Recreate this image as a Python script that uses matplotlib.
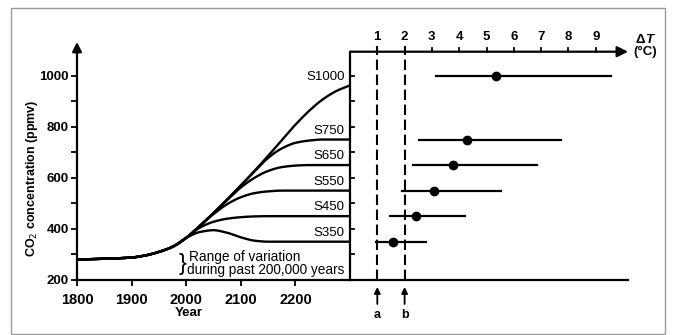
import numpy as np
import matplotlib
matplotlib.use('Agg')
import matplotlib.pyplot as plt

plt.rcParams['font.family'] = ['Liberation Sans', 'DejaVu Sans']

# CO2 pathways (ppmv)
years = [1800, 1850, 1900, 1925, 1950, 1975, 2000, 2025, 2050, 2075, 2100,
         2125, 2150, 2175, 2200, 2225, 2250, 2275, 2300]
hist = [280, 283, 288, 296, 310, 330, 365]
s350 = hist + [388, 395, 385, 367, 354, 350, 350, 350, 350, 350, 350, 350]
s450 = hist + [405, 428, 440, 446, 449, 450, 450, 450, 450, 450, 450, 450]
s550 = hist + [412, 458, 497, 524, 540, 547, 550, 550, 550, 550, 550, 550]
s650 = hist + [412, 462, 513, 562, 600, 627, 642, 648, 650, 650, 650, 650]
s750 = hist + [412, 462, 515, 570, 625, 678, 715, 737, 746, 750, 750, 750]
s1000 = hist + [412, 462, 515, 570, 627, 686, 748, 808, 862, 907, 940, 962]

names = ['S350', 'S450', 'S550', 'S650', 'S750', 'S1000']
levels = [350, 450, 550, 650, 750, 1000]
curves = [s350, s450, s550, s650, s750, s1000]

# equilibrium warming (deg C)
dt_best = [1.58, 2.43, 3.09, 3.77, 4.27, 5.35]
dt_low = [0.96, 1.48, 1.89, 2.30, 2.54, 3.15]
dt_high = [2.80, 4.21, 5.53, 6.85, 7.73, 9.56]


def smooth(x, y, n=400):
    # monotone cubic through the read points, only for drawing
    x = np.asarray(x, float)
    y = np.asarray(y, float)
    h = np.diff(x)
    d = np.diff(y) / h
    m = np.zeros_like(y)
    m[0], m[-1] = d[0], d[-1]
    for k in range(1, len(x) - 1):
        if d[k - 1] * d[k] > 0:
            w1 = 2 * h[k] + h[k - 1]
            w2 = h[k] + 2 * h[k - 1]
            m[k] = (w1 + w2) / (w1 / d[k - 1] + w2 / d[k])
    xn = np.linspace(x[0], x[-1], n)
    i = np.clip(np.searchsorted(x, xn) - 1, 0, len(x) - 2)
    t = (xn - x[i]) / h[i]
    yn = ((2 * t**3 - 3 * t**2 + 1) * y[i] + (t**3 - 2 * t**2 + t) * h[i] * m[i]
          + (-2 * t**3 + 3 * t**2) * y[i + 1] + (t**3 - t**2) * h[i] * m[i + 1])
    return xn, yn


W, H = 673, 335
fig = plt.figure(figsize=(W / 100, H / 100), dpi=100)


def fx(px):
    return px / W


def fy(py):
    return 1 - py / H


# pixel -> ppm scale
Y0, PPM = 280, 0.2554
ytop = 200 + (Y0 - 42) / PPM

# outer frame
fig.patches.append(plt.Rectangle((fx(11), fy(334)), fx(665) - fx(11), fy(8) - fy(334),
                                 transform=fig.transFigure, fill=False,
                                 edgecolor='#9a9a9a', lw=1.0))

# ---- left panel: CO2 pathways
ax = fig.add_axes([fx(77), fy(Y0), fx(350) - fx(77), fy(42) - fy(Y0)])
ax.set_xlim(1800, 2300)
ax.set_ylim(200, ytop)
for s in ['top', 'right']:
    ax.spines[s].set_visible(False)
for s in ['left', 'bottom']:
    ax.spines[s].set_linewidth(1.6)
ax.spines['left'].set_bounds(200, 1095)
ax.annotate('', xy=(1800, ytop), xytext=(1800, 1085), annotation_clip=False,
            arrowprops=dict(arrowstyle='-|>', color='black', lw=1.6,
                            mutation_scale=14, shrinkA=0, shrinkB=0))

ax.set_xticks([1800, 1900, 2000, 2100, 2200])
ax.set_yticks([200, 400, 600, 800, 1000])
ax.set_yticks([300, 500, 700, 900], minor=True)
ax.tick_params(axis='both', direction='out', length=4, width=1.3, pad=2)
ax.tick_params(axis='y', which='minor', length=4, width=1.3)
ax.tick_params(axis='y', labelsize=9.5)
ax.tick_params(axis='x', labelsize=10.5, pad=5)
for lab in ax.get_xticklabels() + ax.get_yticklabels():
    lab.set_fontweight('bold')

for name, lev, c in zip(names, levels, curves):
    xs, ys = smooth(years, c)
    ax.plot(xs, ys, color='black', lw=1.7, clip_on=False, solid_capstyle='butt')
    ty = 995 if name == 'S1000' else lev + 35
    ax.text(2290, ty, name, ha='right', va='center', fontsize=9.5)

ax.text(2005, 290, 'Range of variation', fontsize=9.8, ha='left', va='center')
ax.text(2002, 238, 'during past 200,000 years', fontsize=9.8, ha='left', va='center')
ax.text(1993, 261, '}', fontsize=17, ha='center', va='center', fontweight='light')

fig.text(fx(189), fy(313), 'Year', ha='center', va='center', fontsize=9.5, fontweight='bold')
fig.text(fx(32), fy(178), 'CO$_2$ concentration (ppmv)', rotation=90, ha='center',
         va='center', fontsize=9, fontweight='bold')

# ---- right panel: warming
PX_T = 27.3
axr = fig.add_axes([fx(350), fy(Y0), fx(640) - fx(350), fy(42) - fy(Y0)])
xmax = (640 - 350) / PX_T
axr.set_xlim(0, xmax)
axr.set_ylim(200, ytop)
axr.axis('off')

yaxis = 200 + (Y0 - 51.7) / PPM
xtip = (628 - 350) / PX_T
axr.plot([0, 0], [200, yaxis], color='black', lw=1.6, clip_on=False)
axr.plot([0, xtip], [200, 200], color='black', lw=1.6, clip_on=False)
axr.annotate('', xy=(xtip, yaxis), xytext=(0, yaxis), annotation_clip=False,
             arrowprops=dict(arrowstyle='-|>', color='black', lw=1.6,
                             mutation_scale=16, shrinkA=0, shrinkB=0))
for v in range(300, 1001, 100):
    axr.plot([0, 4 / PX_T], [v, v], color='black', lw=1.3, clip_on=False)
for k in range(1, 10):
    axr.plot([k, k], [yaxis, yaxis + 4 / PPM], color='black', lw=1.3, clip_on=False)
    axr.text(k, 200 + (Y0 - 37) / PPM, str(k), ha='center', va='center',
             fontsize=9.5, fontweight='bold', clip_on=False)
axr.text(xmax + 0.2, 200 + (Y0 - 40) / PPM, 'Δ', ha='right', va='center',
         fontsize=9.5, fontweight='bold')
axr.text(xmax + 0.2, 200 + (Y0 - 40) / PPM, 'T', ha='left', va='center',
         fontsize=9.5, fontweight='bold', style='italic')
axr.text(xmax + 0.2, 200 + (Y0 - 52) / PPM, '(°C)', ha='center', va='center',
         fontsize=9.5, fontweight='bold')

# dashed reference lines a and b
for k, lab in [(1, 'a'), (2, 'b')]:
    axr.plot([k, k], [200, 200 + (Y0 - 46) / PPM], color='black', lw=1.5,
             dashes=(5, 2.2), clip_on=False)
    axr.annotate('', xy=(k, 200 - 7 / PPM), xytext=(k, 200 - 24 / PPM),
                 annotation_clip=False,
                 arrowprops=dict(arrowstyle='-|>', color='black', lw=1.3,
                                 mutation_scale=9, shrinkA=0, shrinkB=0))
    axr.text(k, 200 - 35 / PPM, lab, ha='center', va='center', fontsize=9,
             fontweight='bold')

for lev, lo, best, hi in zip(levels, dt_low, dt_best, dt_high):
    axr.plot([lo, hi], [lev, lev], color='black', lw=1.6, clip_on=False)
    axr.plot(best, lev, 'o', color='black', ms=6, clip_on=False)

fig.savefig('out.png', dpi=100)
